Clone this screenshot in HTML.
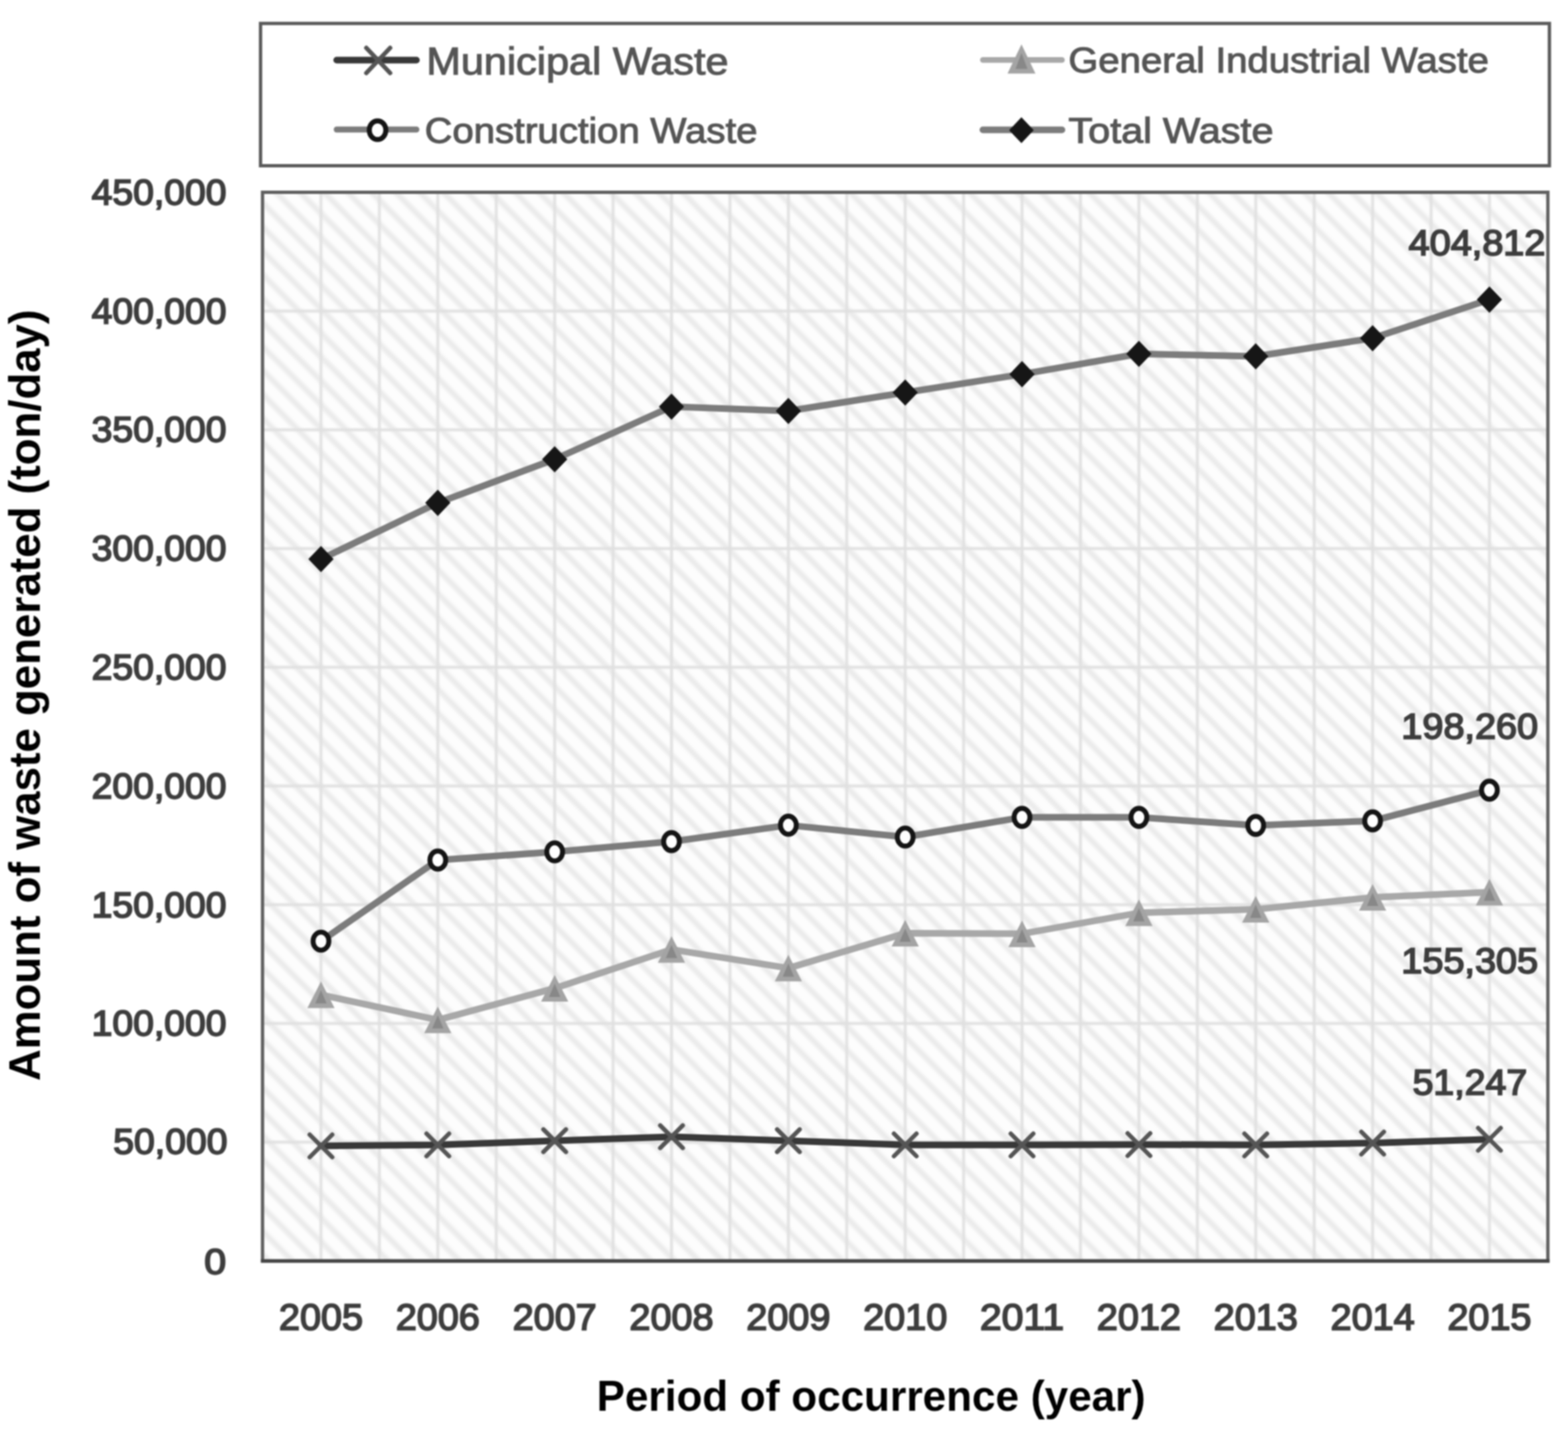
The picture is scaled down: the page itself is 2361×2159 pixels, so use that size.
<!DOCTYPE html><html><head><meta charset="utf-8"><title>Waste generation chart</title><style>
html,body{margin:0;padding:0;background:#fff;}body{width:2361px;height:2159px;overflow:hidden;}
svg{display:block;filter:blur(1.0px);} text{font-family:'Liberation Sans', Arial, sans-serif;font-weight:bold;}
</style></head><body>
<svg width="2361" height="2159" viewBox="0 0 2361 2159">
<defs><pattern id="hatch" patternUnits="userSpaceOnUse" width="36" height="36" x="307.5" y="289.5"><rect width="36" height="36" fill="#fdfdfd"/><path d="M-9,-9 L45,45 M-9,27 L9,45 M27,-9 L45,9" stroke="#ebebeb" stroke-width="8.5"/></pattern></defs>
<rect width="2361" height="2159" fill="#fff"/>
<rect x="392.3" y="35.3" width="1940.7" height="214.2" fill="#fff" stroke="#5a5a5a" stroke-width="5"/>
<clipPath id="pc"><rect x="395.3" y="289.5" width="1935.4" height="1609.0"/></clipPath>
<filter id="hb" x="-2%" y="-2%" width="104%" height="104%"><feGaussianBlur stdDeviation="2.2"/></filter>
<g clip-path="url(#pc)"><rect x="383.3" y="277.5" width="1959.4" height="1633.0" fill="url(#hatch)" filter="url(#hb)"/></g>
<filter id="gb" x="-1%" y="-1%" width="102%" height="102%"><feGaussianBlur stdDeviation="0.9"/></filter>
<path d="M483.3,289.5V1898.5M571.2,289.5V1898.5M659.2,289.5V1898.5M747.2,289.5V1898.5M835.2,289.5V1898.5M923.1,289.5V1898.5M1011.1,289.5V1898.5M1099.1,289.5V1898.5M1187.1,289.5V1898.5M1275.0,289.5V1898.5M1363.0,289.5V1898.5M1451.0,289.5V1898.5M1538.9,289.5V1898.5M1626.9,289.5V1898.5M1714.9,289.5V1898.5M1802.9,289.5V1898.5M1890.8,289.5V1898.5M1978.8,289.5V1898.5M2066.8,289.5V1898.5M2154.8,289.5V1898.5M2242.7,289.5V1898.5M395.3,1719.7H2330.7M395.3,1540.9H2330.7M395.3,1362.2H2330.7M395.3,1183.4H2330.7M395.3,1004.6H2330.7M395.3,825.8H2330.7M395.3,647.1H2330.7M395.3,468.3H2330.7" stroke="#e0e0e0" stroke-width="4.2" fill="none" filter="url(#gb)"/>
<rect x="395.3" y="289.5" width="1935.4" height="1609.0" fill="none" stroke="#606060" stroke-width="5"/>
<path d="M392.8,1898.5H2333.2" stroke="#454545" stroke-width="5.5"/>
<polyline points="483.3,1497.7 659.2,1535.6 835.2,1487.9 1011.1,1429.4 1187.1,1457.6 1363.0,1405.1 1538.9,1405.9 1714.9,1374.3 1890.8,1369.1 2066.8,1351.1 2242.7,1343.2" fill="none" stroke="#a8a8a8" stroke-width="10" stroke-linejoin="round" stroke-linecap="round"/>
<polyline points="483.3,1725.3 659.2,1723.8 835.2,1717.4 1011.1,1711.4 1187.1,1717.4 1363.0,1723.8 1538.9,1723.7 1714.9,1723.2 1890.8,1723.7 2066.8,1721.0 2242.7,1715.3" fill="none" stroke="#383838" stroke-width="10" stroke-linejoin="round" stroke-linecap="round"/>
<polyline points="483.3,1417.0 659.2,1294.9 835.2,1282.5 1011.1,1267.1 1187.1,1242.4 1363.0,1260.2 1538.9,1230.6 1714.9,1230.6 1890.8,1242.7 2066.8,1235.9 2242.7,1189.6" fill="none" stroke="#7c7c7c" stroke-width="10" stroke-linejoin="round" stroke-linecap="round"/>
<polyline points="483.3,841.8 659.2,757.1 835.2,691.5 1011.1,612.2 1187.1,618.7 1363.0,591.0 1538.9,563.4 1714.9,532.8 1890.8,536.5 2066.8,509.2 2242.7,451.1" fill="none" stroke="#7c7c7c" stroke-width="10" stroke-linejoin="round" stroke-linecap="round"/>
<path d="M483.3,1477.7L503.8,1517.7L462.8,1517.7Z" fill="#a4a4a4"/><path d="M483.3,1490.7L491.8,1510.7L474.8,1510.7Z" fill="#888"/>
<path d="M659.2,1515.6L679.7,1555.6L638.7,1555.6Z" fill="#a4a4a4"/><path d="M659.2,1528.6L667.7,1548.6L650.7,1548.6Z" fill="#888"/>
<path d="M835.2,1467.9L855.7,1507.9L814.7,1507.9Z" fill="#a4a4a4"/><path d="M835.2,1480.9L843.7,1500.9L826.7,1500.9Z" fill="#888"/>
<path d="M1011.1,1409.4L1031.6,1449.4L990.6,1449.4Z" fill="#a4a4a4"/><path d="M1011.1,1422.4L1019.6,1442.4L1002.6,1442.4Z" fill="#888"/>
<path d="M1187.1,1437.6L1207.6,1477.6L1166.6,1477.6Z" fill="#a4a4a4"/><path d="M1187.1,1450.6L1195.6,1470.6L1178.6,1470.6Z" fill="#888"/>
<path d="M1363.0,1385.1L1383.5,1425.1L1342.5,1425.1Z" fill="#a4a4a4"/><path d="M1363.0,1398.1L1371.5,1418.1L1354.5,1418.1Z" fill="#888"/>
<path d="M1538.9,1385.9L1559.4,1425.9L1518.4,1425.9Z" fill="#a4a4a4"/><path d="M1538.9,1398.9L1547.4,1418.9L1530.4,1418.9Z" fill="#888"/>
<path d="M1714.9,1354.3L1735.4,1394.3L1694.4,1394.3Z" fill="#a4a4a4"/><path d="M1714.9,1367.3L1723.4,1387.3L1706.4,1387.3Z" fill="#888"/>
<path d="M1890.8,1349.1L1911.3,1389.1L1870.3,1389.1Z" fill="#a4a4a4"/><path d="M1890.8,1362.1L1899.3,1382.1L1882.3,1382.1Z" fill="#888"/>
<path d="M2066.8,1331.1L2087.3,1371.1L2046.3,1371.1Z" fill="#a4a4a4"/><path d="M2066.8,1344.1L2075.3,1364.1L2058.3,1364.1Z" fill="#888"/>
<path d="M2242.7,1323.2L2263.2,1363.2L2222.2,1363.2Z" fill="#a4a4a4"/><path d="M2242.7,1336.2L2251.2,1356.2L2234.2,1356.2Z" fill="#888"/>
<path d="M466.3,1708.3L500.3,1742.3M466.3,1742.3L500.3,1708.3" stroke="#555" stroke-width="6.5" stroke-linecap="round"/>
<path d="M642.2,1706.8L676.2,1740.8M642.2,1740.8L676.2,1706.8" stroke="#555" stroke-width="6.5" stroke-linecap="round"/>
<path d="M818.2,1700.4L852.2,1734.4M818.2,1734.4L852.2,1700.4" stroke="#555" stroke-width="6.5" stroke-linecap="round"/>
<path d="M994.1,1694.4L1028.1,1728.4M994.1,1728.4L1028.1,1694.4" stroke="#555" stroke-width="6.5" stroke-linecap="round"/>
<path d="M1170.1,1700.4L1204.1,1734.4M1170.1,1734.4L1204.1,1700.4" stroke="#555" stroke-width="6.5" stroke-linecap="round"/>
<path d="M1346.0,1706.8L1380.0,1740.8M1346.0,1740.8L1380.0,1706.8" stroke="#555" stroke-width="6.5" stroke-linecap="round"/>
<path d="M1521.9,1706.7L1555.9,1740.7M1521.9,1740.7L1555.9,1706.7" stroke="#555" stroke-width="6.5" stroke-linecap="round"/>
<path d="M1697.9,1706.2L1731.9,1740.2M1697.9,1740.2L1731.9,1706.2" stroke="#555" stroke-width="6.5" stroke-linecap="round"/>
<path d="M1873.8,1706.7L1907.8,1740.7M1873.8,1740.7L1907.8,1706.7" stroke="#555" stroke-width="6.5" stroke-linecap="round"/>
<path d="M2049.8,1704.0L2083.8,1738.0M2049.8,1738.0L2083.8,1704.0" stroke="#555" stroke-width="6.5" stroke-linecap="round"/>
<path d="M2225.7,1698.3L2259.7,1732.3M2225.7,1732.3L2259.7,1698.3" stroke="#555" stroke-width="6.5" stroke-linecap="round"/>
<ellipse cx="483.3" cy="1417.0" rx="11.9" ry="13.6" fill="#fff" stroke="#141414" stroke-width="7.4"/>
<ellipse cx="659.2" cy="1294.9" rx="11.9" ry="13.6" fill="#fff" stroke="#141414" stroke-width="7.4"/>
<ellipse cx="835.2" cy="1282.5" rx="11.9" ry="13.6" fill="#fff" stroke="#141414" stroke-width="7.4"/>
<ellipse cx="1011.1" cy="1267.1" rx="11.9" ry="13.6" fill="#fff" stroke="#141414" stroke-width="7.4"/>
<ellipse cx="1187.1" cy="1242.4" rx="11.9" ry="13.6" fill="#fff" stroke="#141414" stroke-width="7.4"/>
<ellipse cx="1363.0" cy="1260.2" rx="11.9" ry="13.6" fill="#fff" stroke="#141414" stroke-width="7.4"/>
<ellipse cx="1538.9" cy="1230.6" rx="11.9" ry="13.6" fill="#fff" stroke="#141414" stroke-width="7.4"/>
<ellipse cx="1714.9" cy="1230.6" rx="11.9" ry="13.6" fill="#fff" stroke="#141414" stroke-width="7.4"/>
<ellipse cx="1890.8" cy="1242.7" rx="11.9" ry="13.6" fill="#fff" stroke="#141414" stroke-width="7.4"/>
<ellipse cx="2066.8" cy="1235.9" rx="11.9" ry="13.6" fill="#fff" stroke="#141414" stroke-width="7.4"/>
<ellipse cx="2242.7" cy="1189.6" rx="11.9" ry="13.6" fill="#fff" stroke="#141414" stroke-width="7.4"/>
<path d="M483.3,822.0L502.3,841.8L483.3,861.6L464.3,841.8Z" fill="#161616"/>
<path d="M659.2,737.3L678.2,757.1L659.2,776.9L640.2,757.1Z" fill="#161616"/>
<path d="M835.2,671.7L854.2,691.5L835.2,711.3L816.2,691.5Z" fill="#161616"/>
<path d="M1011.1,592.4L1030.1,612.2L1011.1,632.0L992.1,612.2Z" fill="#161616"/>
<path d="M1187.1,598.9L1206.1,618.7L1187.1,638.5L1168.1,618.7Z" fill="#161616"/>
<path d="M1363.0,571.2L1382.0,591.0L1363.0,610.8L1344.0,591.0Z" fill="#161616"/>
<path d="M1538.9,543.6L1557.9,563.4L1538.9,583.2L1519.9,563.4Z" fill="#161616"/>
<path d="M1714.9,513.0L1733.9,532.8L1714.9,552.6L1695.9,532.8Z" fill="#161616"/>
<path d="M1890.8,516.7L1909.8,536.5L1890.8,556.3L1871.8,536.5Z" fill="#161616"/>
<path d="M2066.8,489.4L2085.8,509.2L2066.8,529.0L2047.8,509.2Z" fill="#161616"/>
<path d="M2242.7,431.3L2261.7,451.1L2242.7,470.9L2223.7,451.1Z" fill="#161616"/>
<path d="M507.0,90.5H627.0" stroke="#383838" stroke-width="10" stroke-linecap="round"/>
<path d="M551.5,72.0L587.5,110.0M551.5,110.0L587.5,72.0" stroke="#555" stroke-width="6.5" stroke-linecap="round"/>
<path d="M507.0,195.0H627.0" stroke="#7c7c7c" stroke-width="9" stroke-linecap="round"/>
<ellipse cx="568.5" cy="196.0" rx="12.5" ry="14" fill="#fff" stroke="#141414" stroke-width="7.5"/>
<path d="M1480.0,90.2H1599.0" stroke="#a8a8a8" stroke-width="8.5" stroke-linecap="round"/>
<path d="M1538.1,66.7L1559.1,110.7L1517.1,110.7Z" fill="#a4a4a4"/><path d="M1538.1,79.7L1547.1,103.7L1529.1,103.7Z" fill="#888"/>
<path d="M1480.0,195.5H1599.0" stroke="#7c7c7c" stroke-width="10" stroke-linecap="round"/>
<path d="M1538.0,176.6L1556.5,196.1L1538.0,215.6L1519.5,196.1Z" fill="#161616"/>
<text x="642" y="111.8" font-size="57.3" fill="#555" text-anchor="start" textLength="455" lengthAdjust="spacingAndGlyphs" style="font-weight:normal" stroke="#555" stroke-width="1.4">Municipal Waste</text>
<text x="639.5" y="215" font-size="54" fill="#555" text-anchor="start" textLength="501" lengthAdjust="spacingAndGlyphs" style="font-weight:normal" stroke="#555" stroke-width="1.4">Construction Waste</text>
<text x="1608.8" y="108.8" font-size="54.2" fill="#555" text-anchor="start" textLength="633" lengthAdjust="spacingAndGlyphs" style="font-weight:normal" stroke="#555" stroke-width="1.4">General Industrial Waste</text>
<text x="1608.8" y="215.2" font-size="54" fill="#555" text-anchor="start" textLength="308.7" lengthAdjust="spacingAndGlyphs" style="font-weight:normal" stroke="#555" stroke-width="1.4">Total Waste</text>
<text x="307.5" y="1917.5" font-size="53" fill="#3d3d3d" text-anchor="start" textLength="33" lengthAdjust="spacingAndGlyphs" style="font-weight:normal" stroke="#3d3d3d" stroke-width="2.3">0</text>
<text x="170.5" y="1737.2" font-size="53" fill="#3d3d3d" text-anchor="start" textLength="172" lengthAdjust="spacingAndGlyphs" style="font-weight:normal" stroke="#3d3d3d" stroke-width="2.3">50,000</text>
<text x="138" y="1559.2" font-size="53" fill="#3d3d3d" text-anchor="start" textLength="203" lengthAdjust="spacingAndGlyphs" style="font-weight:normal" stroke="#3d3d3d" stroke-width="2.3">100,000</text>
<text x="138" y="1380.5" font-size="53" fill="#3d3d3d" text-anchor="start" textLength="203" lengthAdjust="spacingAndGlyphs" style="font-weight:normal" stroke="#3d3d3d" stroke-width="2.3">150,000</text>
<text x="138" y="1201.7" font-size="53" fill="#3d3d3d" text-anchor="start" textLength="203" lengthAdjust="spacingAndGlyphs" style="font-weight:normal" stroke="#3d3d3d" stroke-width="2.3">200,000</text>
<text x="138" y="1022.9" font-size="53" fill="#3d3d3d" text-anchor="start" textLength="203" lengthAdjust="spacingAndGlyphs" style="font-weight:normal" stroke="#3d3d3d" stroke-width="2.3">250,000</text>
<text x="138" y="844.1" font-size="53" fill="#3d3d3d" text-anchor="start" textLength="203" lengthAdjust="spacingAndGlyphs" style="font-weight:normal" stroke="#3d3d3d" stroke-width="2.3">300,000</text>
<text x="138" y="665.4" font-size="53" fill="#3d3d3d" text-anchor="start" textLength="203" lengthAdjust="spacingAndGlyphs" style="font-weight:normal" stroke="#3d3d3d" stroke-width="2.3">350,000</text>
<text x="138" y="486.6" font-size="53" fill="#3d3d3d" text-anchor="start" textLength="203" lengthAdjust="spacingAndGlyphs" style="font-weight:normal" stroke="#3d3d3d" stroke-width="2.3">400,000</text>
<text x="138" y="307.8" font-size="53" fill="#3d3d3d" text-anchor="start" textLength="203" lengthAdjust="spacingAndGlyphs" style="font-weight:normal" stroke="#3d3d3d" stroke-width="2.3">450,000</text>
<text x="420.0" y="2001.7" font-size="56" fill="#3d3d3d" text-anchor="start" textLength="126.6" lengthAdjust="spacingAndGlyphs" style="font-weight:normal" stroke="#3d3d3d" stroke-width="2.3">2005</text>
<text x="595.9" y="2001.7" font-size="56" fill="#3d3d3d" text-anchor="start" textLength="126.6" lengthAdjust="spacingAndGlyphs" style="font-weight:normal" stroke="#3d3d3d" stroke-width="2.3">2006</text>
<text x="771.9" y="2001.7" font-size="56" fill="#3d3d3d" text-anchor="start" textLength="126.6" lengthAdjust="spacingAndGlyphs" style="font-weight:normal" stroke="#3d3d3d" stroke-width="2.3">2007</text>
<text x="947.8" y="2001.7" font-size="56" fill="#3d3d3d" text-anchor="start" textLength="126.6" lengthAdjust="spacingAndGlyphs" style="font-weight:normal" stroke="#3d3d3d" stroke-width="2.3">2008</text>
<text x="1123.8" y="2001.7" font-size="56" fill="#3d3d3d" text-anchor="start" textLength="126.6" lengthAdjust="spacingAndGlyphs" style="font-weight:normal" stroke="#3d3d3d" stroke-width="2.3">2009</text>
<text x="1299.7" y="2001.7" font-size="56" fill="#3d3d3d" text-anchor="start" textLength="126.6" lengthAdjust="spacingAndGlyphs" style="font-weight:normal" stroke="#3d3d3d" stroke-width="2.3">2010</text>
<text x="1475.6" y="2001.7" font-size="56" fill="#3d3d3d" text-anchor="start" textLength="126.6" lengthAdjust="spacingAndGlyphs" style="font-weight:normal" stroke="#3d3d3d" stroke-width="2.3">2011</text>
<text x="1651.6" y="2001.7" font-size="56" fill="#3d3d3d" text-anchor="start" textLength="126.6" lengthAdjust="spacingAndGlyphs" style="font-weight:normal" stroke="#3d3d3d" stroke-width="2.3">2012</text>
<text x="1827.5" y="2001.7" font-size="56" fill="#3d3d3d" text-anchor="start" textLength="126.6" lengthAdjust="spacingAndGlyphs" style="font-weight:normal" stroke="#3d3d3d" stroke-width="2.3">2013</text>
<text x="2003.5" y="2001.7" font-size="56" fill="#3d3d3d" text-anchor="start" textLength="126.6" lengthAdjust="spacingAndGlyphs" style="font-weight:normal" stroke="#3d3d3d" stroke-width="2.3">2014</text>
<text x="2179.4" y="2001.7" font-size="56" fill="#3d3d3d" text-anchor="start" textLength="126.6" lengthAdjust="spacingAndGlyphs" style="font-weight:normal" stroke="#3d3d3d" stroke-width="2.3">2015</text>
<text x="898.5" y="2123.5" font-size="64.7" fill="#000" text-anchor="start" textLength="826.5" lengthAdjust="spacingAndGlyphs">Period of occurrence (year)</text>
<text transform="translate(59.5,1627.5) rotate(-90)" x="0" y="0" font-size="66" fill="#000" textLength="1161.5" lengthAdjust="spacingAndGlyphs">Amount of waste generated (ton/day)</text>
<text x="2121" y="383.6" font-size="54" fill="#3d3d3d" text-anchor="start" textLength="206" lengthAdjust="spacingAndGlyphs" style="font-weight:normal" stroke="#3d3d3d" stroke-width="2.3">404,812</text>
<text x="2110" y="1112.4" font-size="54" fill="#3d3d3d" text-anchor="start" textLength="206" lengthAdjust="spacingAndGlyphs" style="font-weight:normal" stroke="#3d3d3d" stroke-width="2.3">198,260</text>
<text x="2110" y="1464.8" font-size="54" fill="#3d3d3d" text-anchor="start" textLength="206" lengthAdjust="spacingAndGlyphs" style="font-weight:normal" stroke="#3d3d3d" stroke-width="2.3">155,305</text>
<text x="2127" y="1648" font-size="54" fill="#3d3d3d" text-anchor="start" textLength="172.5" lengthAdjust="spacingAndGlyphs" style="font-weight:normal" stroke="#3d3d3d" stroke-width="2.3">51,247</text>
</svg></body></html>
